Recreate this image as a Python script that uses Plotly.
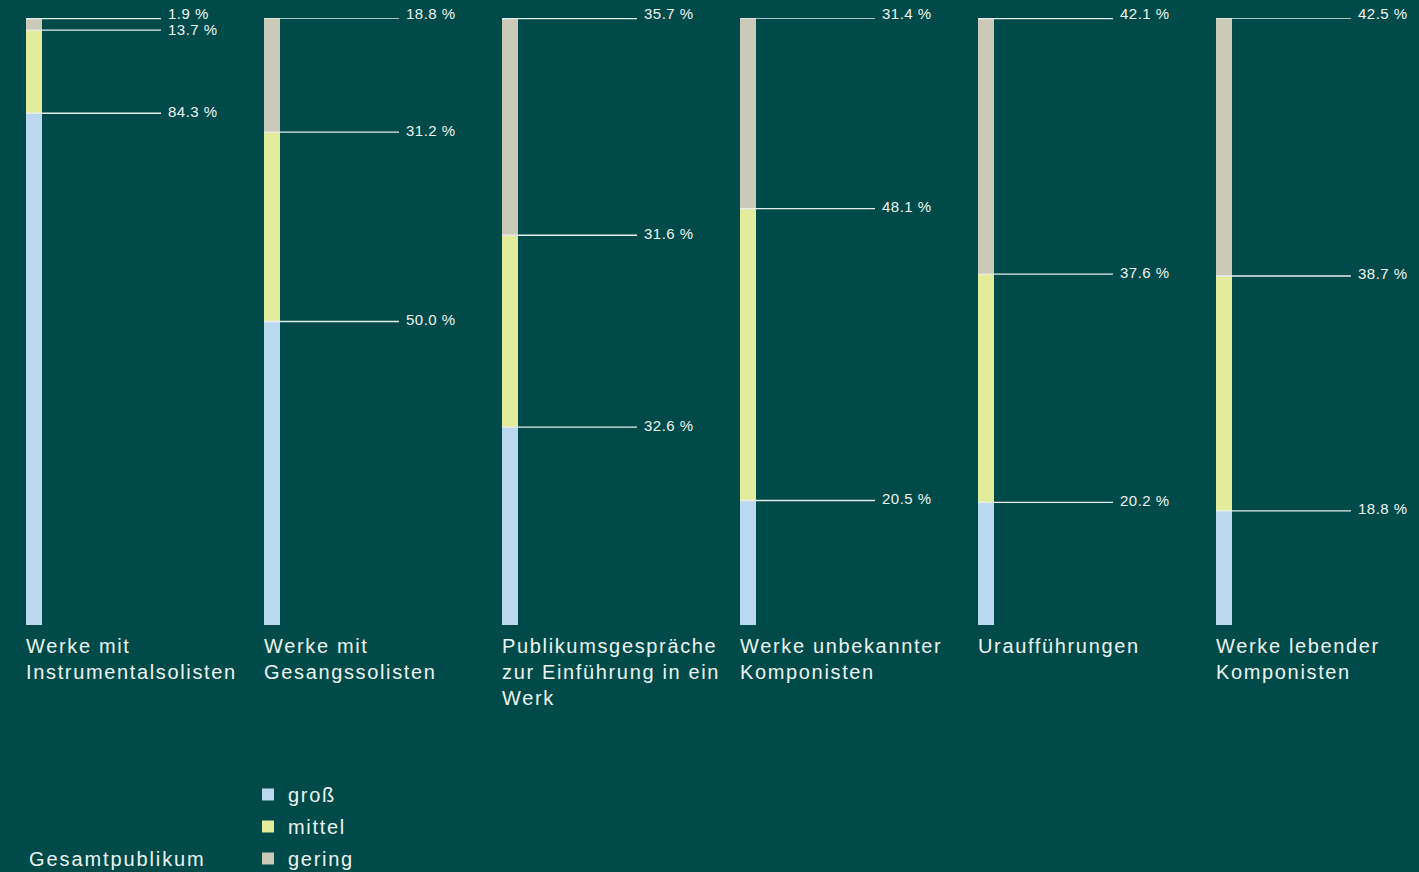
import plotly.graph_objects as go

# Audience interest by programme type (shares in %)
categories = [
    "Werke mit<br>Instrumentalsolisten",
    "Werke mit<br>Gesangssolisten",
    "Publikumsgespräche<br>zur Einführung in ein<br>Werk",
    "Werke unbekannter<br>Komponisten",
    "Uraufführungen",
    "Werke lebender<br>Komponisten",
]
gross = [84.3, 50.0, 32.6, 20.5, 20.2, 18.8]
mittel = [13.7, 31.2, 31.6, 48.1, 37.6, 38.7]
gering = [1.9, 18.8, 35.7, 31.4, 42.1, 42.5]

series = [("groß", gross, "#BBD8F1"), ("mittel", mittel, "#E2EC9B"), ("gering", gering, "#CBC9B8")]

BG = "#004B49"
TEXT = "#EDF3F1"
LINE = "#E6EEEC"
FONT = "Liberation Sans, Arial, sans-serif"

W, H = 1419, 872
TOP, BOTTOM = 18, 625  # plot area in pixels
STEP = 238.0          # pixel distance between bars
BAR_PX = 16.0         # bar width in pixels
x0_px = 34.0          # centre of the first bar
u = 1.0 / STEP        # one pixel in x data units


def spaced(text, px):
    return f'<span style="letter-spacing:{px}px">{text}</span>'


xs = list(range(len(categories)))

fig = go.Figure()
for name, vals, color in series:
    fig.add_trace(go.Bar(
        x=xs, y=vals, name=spaced(name, 1.7), width=BAR_PX * u,
        legendgroup=name,
        marker=dict(color=color, line=dict(width=0)),
        hoverinfo="skip",
    ))

shapes = []
annotations = []
for i in xs:
    cum = 0.0
    for k, (name, vals, color) in enumerate(series):
        cum += vals[i]
        top = cum
        shapes.append(dict(
            type="line", xref="x", yref="y",
            x0=i - BAR_PX / 2 * u, x1=i + 127 * u, y0=top, y1=top,
            line=dict(color=LINE, width=1.4),
        ))
        shift = 2
        if k == 2:
            shift = 5
        elif k == 1 and i == 0:
            shift = 1
        annotations.append(dict(
            x=i + 132 * u, y=top, xref="x", yref="y",
            text=spaced(f"{vals[i]:.1f} %", 0.5),
            showarrow=False, xanchor="left", yanchor="middle", yshift=shift,
            font=dict(family=FONT, size=15, color=TEXT),
        ))
    annotations.append(dict(
        x=i - (BAR_PX / 2 + 2) * u, y=0, xref="x", yref="y",
        text=spaced(categories[i], 1.65),
        showarrow=False, xanchor="left", yanchor="top", yshift=-8, align="left",
        font=dict(family=FONT, size=20, color=TEXT),
    ))

annotations.append(dict(
    x=27 / W, y=(BOTTOM - 859) / (BOTTOM - TOP), xref="paper", yref="paper",
    text=spaced("Gesamtpublikum", 1.9),
    showarrow=False, xanchor="left", yanchor="middle",
    font=dict(family=FONT, size=20, color=TEXT),
))

fig.update_layout(
    width=W, height=H,
    margin=dict(l=0, r=0, t=TOP, b=H - BOTTOM),
    paper_bgcolor=BG, plot_bgcolor=BG,
    barmode="stack",
    xaxis=dict(range=[-x0_px * u, (W - x0_px) * u], visible=False, fixedrange=True),
    yaxis=dict(range=[0, 100], visible=False, fixedrange=True),
    shapes=shapes,
    annotations=annotations,
    showlegend=True,
    legend=dict(
        x=248 / W, xref="paper", yref="container", y=(H - 775) / H, yanchor="top",
        traceorder="grouped", orientation="v",
        font=dict(family=FONT, size=20, color=TEXT),
        bgcolor="rgba(0,0,0,0)", tracegroupgap=3,
        itemclick=False, itemdoubleclick=False,
    ),
)

fig.write_html("out.html")
